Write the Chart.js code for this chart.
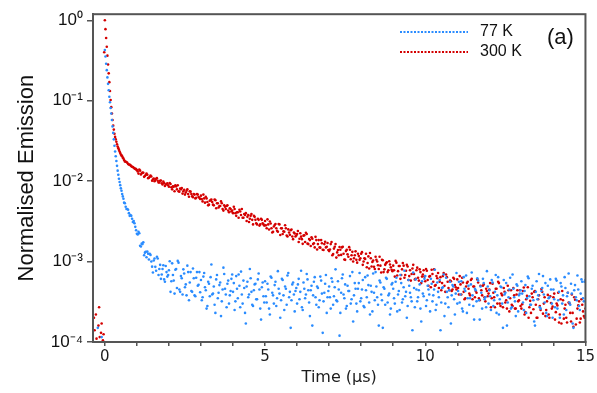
<!DOCTYPE html>
<html>
<head>
<meta charset="utf-8">
<script src="https://cdn.jsdelivr.net/npm/chart.js@4.4.1/dist/chart.umd.min.js"></script>
<style>
  html, body { margin: 0; padding: 0; background: #fff; }
</style>
</head>
<body>
<canvas id="decay" width="597" height="393"></canvas>
<script>
// time bins (µs): fine bins around the pulse, two interleaved sets of bins for the tail
const earlyStart = -0.36, earlyStep = 0.02;
const lateStart = 0.6, lateBStart = 0.625, lateStep = 0.05;

const seriesLabels = ['77 K', '300 K'];
const seriesColors = ['#2a8cff', '#d40000'];

// 77 K, -0.36 .. 0.58 µs
const blueEarly = [
  null, null, null, null, null, null, null, 1.5e-4, null, null, null, null, null, 1.15e-4, null, null, null, null,
  0.427, 0.355, 0.288, 0.240, 0.195, 0.162, 0.135, 0.112, 0.0955, 0.0813,
  0.0692, 0.0575, 0.0479, 0.0398, 0.0331, 0.0275, 0.0234, 0.0204, 0.0178, 0.0155,
  0.0135, 0.0120, 0.0107, 0.00977, 0.00891, 0.00813, 0.00759, 0.00692, 0.00646, 0.00603
];
// 77 K, 0.600 .. 15.000 µs
const blueLate = [
  5.4e-3, 4.8e-3, 4.5e-3, 4.0e-3, 3.8e-3, 3.4e-3, 3.2e-3, 2.7e-3,
  2.22e-3, 2.34e-3, 1.57e-3, 1.67e-3, 1.74e-3, 1.29e-3, 1.13e-3, 1.25e-3, 1.25e-3, 1.0e-3, 7.3e-4, 1.09e-3, 7.7e-4, 1.09e-3, 8.1e-4, 6.1e-4, 8.1e-4, 6.0e-4, 8.8e-4, 6.5e-4,
  7.8e-4, 4.2e-4, 9.5e-4, 5.8e-4, 7.9e-4, 4.7e-4, 9.7e-4, 4.2e-4, 6.2e-4, 8.0e-4, 4.8e-4, 3.8e-4, 7.4e-4, 5.5e-4, 4.3e-4, 8.2e-4, 3.8e-4, 6.3e-4, 5.0e-4, 7.4e-4,
  5.9e-4, 3.6e-4, 7.2e-4, 4.4e-4, 2.8e-4, 5.3e-4, 6.4e-4, 3.9e-4, 4.9e-4, 2.3e-4, 6.8e-4, 4.1e-4, 5.5e-4, 3.2e-4, 8.4e-4, 4.6e-4, 2.7e-4, 5.8e-4, 3.8e-4, 6.1e-4,
  4.2e-4, 2.5e-4, 6.6e-4, 3.5e-4, 5.0e-4, 7.5e-4, 3.0e-4, 4.7e-4, 1.7e-4, 5.6e-4, 3.9e-4, 6.2e-4, 2.9e-4, 4.4e-4, 5.3e-4, 3.4e-4, 7.1e-4, 2.6e-4, 4.8e-4, 3.7e-4,
  5.7e-4, 3.1e-4, 4.5e-4, 2.2e-4, 6.3e-4, 3.8e-4, 5.1e-4, 2.8e-4, 7.6e-4, 4.0e-4, 3.3e-4, 5.9e-4, 2.5e-4, 4.6e-4, 6.7e-4, 3.6e-4, 1.5e-4, 5.2e-4, 3.9e-4, 4.3e-4,
  3.0e-4, 6.1e-4, 4.2e-4, 2.7e-4, 5.5e-4, 3.5e-4, 7.0e-4, 4.4e-4, 2.1e-4, 5.0e-4, 3.8e-4, 6.4e-4, 2.9e-4, 4.7e-4, 3.3e-4, 5.8e-4, 1.3e-4, 4.1e-4, 6.8e-4, 3.6e-4,
  4.9e-4, 2.6e-4, 5.6e-4, 3.7e-4, 8.0e-4, 3.2e-4, 4.5e-4, 2.3e-4, 6.2e-4, 3.9e-4, 5.2e-4, 2.8e-4, 4.3e-4, 6.6e-4, 3.4e-4, 1.8e-4, 5.4e-4, 3.0e-4, 4.6e-4, 7.2e-4,
  3.5e-4, 5.9e-4, 2.7e-4, 4.4e-4, 6.7e-4, 3.1e-4, 5.0e-4, 2.4e-4, 4.1e-4, 7.4e-4, 3.6e-4, 1.6e-4, 5.5e-4, 3.3e-4, 4.8e-4, 2.9e-4, 6.1e-4, 3.8e-4, 2.2e-4, 5.2e-4,
  4.6e-4, 3.0e-4, 6.3e-4, 3.9e-4, 2.5e-4, 5.4e-4, 3.4e-4, 7.7e-4, 4.2e-4, 2.8e-4, 5.0e-4, 3.6e-4, 1.4e-4, 4.7e-4, 6.0e-4, 3.2e-4, 4.4e-4, 2.6e-4, 5.7e-4, 3.7e-4,
  6.6e-4, 3.3e-4, 4.5e-4, 2.4e-4, 5.3e-4, 3.8e-4, 7.9e-4, 2.9e-4, 4.2e-4, 5.9e-4, 3.1e-4, 4.8e-4, 2.1e-4, 6.3e-4, 3.6e-4, 4.4e-4, 1.7e-4, 5.1e-4, 3.4e-4, 4.0e-4,
  3.0e-4, 5.6e-4, 3.9e-4, 2.6e-4, 6.4e-4, 4.3e-4, 2.3e-4, 5.0e-4, 3.5e-4, 7.3e-4, 2.8e-4, 4.6e-4, 3.2e-4, 5.8e-4, 1.9e-4, 4.1e-4, 6.1e-4, 3.4e-4, 2.7e-4, 4.9e-4,
  4.4e-4, 2.5e-4, 5.5e-4, 3.3e-4, 6.8e-4, 3.8e-4, 2.2e-4, 4.9e-4, 3.0e-4, 5.9e-4, 4.1e-4, 1.6e-4, 3.6e-4, 6.3e-4, 2.7e-4, 4.6e-4, 3.2e-4, 5.2e-4, 2.4e-4, 4.0e-4,
  5.7e-4, 3.1e-4, 4.3e-4, 2.3e-4, 6.5e-4, 3.7e-4, 2.9e-4, 5.0e-4, 1.8e-4, 4.2e-4, 3.4e-4, 7.0e-4, 2.6e-4, 4.7e-4, 3.9e-4, 5.4e-4, 2.1e-4, 3.5e-4, 6.0e-4, 3.0e-4,
  4.5e-4, 2.7e-4, 5.8e-4, 3.3e-4, 2.0e-4, 4.9e-4, 3.8e-4, 6.4e-4, 2.5e-4, 4.1e-4, 3.1e-4, 5.3e-4, 1.7e-4, 4.4e-4, 3.6e-4, 6.7e-4, 2.8e-4, 4.0e-4, 5.6e-4, 3.2e-4, 5.9e-4
];
// 77 K, 0.625 .. 14.975 µs
const blueLateB = [
  5.3e-3, 4.5e-3, 4.4e-3, 3.7e-3, 3.7e-3, 3.1e-3, 3.0e-3, 2.45e-3,
  2.17e-3, 2.25e-3, 1.54e-3, 1.65e-3, 1.2e-3, 1.32e-3, 1.33e-3, 1.06e-3, 1.21e-3, 8.65e-4, 1.03e-3, 8.6e-4, 1.15e-3, 6.8e-4, 9.1e-4, 6.9e-4, 9.0e-4, 5.6e-4, 7.4e-4, 6.8e-4,
  1.01e-3, 5.7e-4, 6.8e-4, 4.0e-4, 8.1e-4, 1.02e-3, 4.5e-4, 6.6e-4, 3.9e-4, 7.1e-4, 5.2e-4, 8.9e-4, 3.3e-4, 7.4e-4, 4.2e-4, 6.2e-4, 3.7e-4, 7.4e-4, 5.15e-4, 4.15e-4,
  3.3e-4, 6.5e-4, 4.8e-4, 2.6e-4, 5.6e-4, 3.7e-4, 9.2e-4, 4.0e-4, 2.9e-4, 6.0e-4, 3.5e-4, 5.1e-4, 2.1e-4, 4.5e-4, 7.0e-4, 3.9e-4, 5.3e-4, 3.0e-4, 4.3e-4, 6.9e-4,
  5.4e-4, 3.2e-4, 4.6e-4, 6.9e-4, 2.7e-4, 3.9e-4, 5.8e-4, 2.3e-4, 4.9e-4, 3.6e-4, 8.1e-4, 4.2e-4, 2.8e-4, 5.2e-4, 3.4e-4, 6.0e-4, 4.5e-4, 1.9e-4, 5.5e-4, 3.1e-4,
  3.7e-4, 5.3e-4, 2.6e-4, 6.5e-4, 4.1e-4, 3.0e-4, 5.6e-4, 3.5e-4, 4.6e-4, 2.0e-4, 6.1e-4, 3.8e-4, 4.9e-4, 2.9e-4, 7.2e-4, 4.2e-4, 3.3e-4, 5.5e-4, 2.4e-4, 4.7e-4,
  5.2e-4, 3.4e-4, 7.7e-4, 2.5e-4, 4.6e-4, 3.9e-4, 6.0e-4, 3.1e-4, 4.4e-4, 1.6e-4, 5.6e-4, 3.6e-4, 4.9e-4, 2.7e-4, 6.5e-4, 4.0e-4, 3.2e-4, 5.3e-4, 2.3e-4, 4.3e-4,
  3.6e-4, 6.2e-4, 2.9e-4, 4.8e-4, 3.3e-4, 5.7e-4, 1.2e-4, 4.1e-4, 6.9e-4, 3.5e-4, 2.6e-4, 5.0e-4, 4.3e-4, 3.0e-4, 7.4e-4, 3.8e-4, 4.6e-4, 2.4e-4, 5.4e-4, 3.2e-4,
  4.5e-4, 2.8e-4, 6.4e-4, 3.6e-4, 5.1e-4, 2.2e-4, 4.2e-4, 7.1e-4, 3.3e-4, 4.9e-4, 2.9e-4, 5.8e-4, 3.9e-4, 1.5e-4, 4.6e-4, 6.3e-4, 3.1e-4, 4.0e-4, 2.6e-4, 5.4e-4,
  3.5e-4, 5.6e-4, 2.4e-4, 4.3e-4, 6.8e-4, 3.1e-4, 4.8e-4, 3.7e-4, 2.0e-4, 5.9e-4, 4.1e-4, 3.2e-4, 7.3e-4, 2.7e-4, 4.5e-4, 3.6e-4, 5.2e-4, 1.8e-4, 4.0e-4, 6.1e-4,
  2.8e-4, 5.0e-4, 3.9e-4, 6.1e-4, 3.2e-4, 4.5e-4, 2.5e-4, 5.5e-4, 3.6e-4, 1.4e-4, 4.7e-4, 6.9e-4, 3.0e-4, 4.2e-4, 2.7e-4, 5.6e-4, 3.8e-4, 4.9e-4, 2.2e-4, 7.2e-4,
  4.3e-4, 3.1e-4, 5.7e-4, 2.4e-4, 4.6e-4, 6.7e-4, 3.5e-4, 2.9e-4, 5.2e-4, 3.8e-4, 1.9e-4, 4.4e-4, 6.2e-4, 3.3e-4, 4.9e-4, 2.6e-4, 5.4e-4, 3.6e-4, 7.6e-4, 3.0e-4,
  3.7e-4, 5.9e-4, 2.8e-4, 4.2e-4, 2.3e-4, 6.4e-4, 3.4e-4, 4.8e-4, 1.5e-4, 3.9e-4, 5.4e-4, 3.1e-4, 4.5e-4, 2.6e-4, 6.9e-4, 3.6e-4, 2.1e-4, 5.0e-4, 3.8e-4, 4.4e-4,
  4.0e-4, 2.5e-4, 5.1e-4, 3.5e-4, 6.2e-4, 2.9e-4, 4.6e-4, 3.3e-4, 1.6e-4, 5.7e-4, 3.8e-4, 2.7e-4, 4.3e-4, 6.6e-4, 3.1e-4, 2.3e-4, 5.0e-4, 3.6e-4, 4.5e-4, 2.0e-4,
  3.4e-4, 6.1e-4, 2.6e-4, 4.2e-4, 5.4e-4, 3.0e-4, 2.2e-4, 4.7e-4, 3.7e-4, 7.1e-4, 2.9e-4, 4.0e-4, 1.5e-4, 5.1e-4, 3.3e-4, 4.5e-4, 2.5e-4, 6.0e-4, 3.5e-4, 5.6e-4
];

// 300 K, -0.36 .. 0.58 µs
const redEarly = [
  null, 2.0e-4, 1.4e-4, null, 2.2e-4, 1.1e-4, null, null, 1.6e-4, 2.7e-4, 1.15e-4, null, 1.3e-4, 1.7e-4, null, 1.05e-4, 1.25e-4, 0.40,
  1.0, 0.776, 0.603, 0.468, 0.363, 0.282, 0.219, 0.170, 0.132, 0.102,
  0.0832, 0.0692, 0.0575, 0.0490, 0.0437, 0.0389, 0.0355, 0.0331, 0.0309, 0.0288,
  0.0269, 0.0257, 0.0245, 0.0234, 0.0224, 0.0214, 0.0209, 0.0204, 0.0195, 0.0191
];
// 300 K, 0.600 .. 15.000 µs
const redLate = [
  1.83e-2, 1.74e-2, 1.69e-2, 1.61e-2, 1.58e-2, 1.51e-2, 1.47e-2, 1.42e-2,
  1.37e-2, 1.24e-2, 1.35e-2, 1.25e-2, 1.27e-2, 1.16e-2, 1.24e-2, 1.09e-2, 1.13e-2, 1.14e-2, 1.05e-2, 9.95e-3, 1.07e-2, 1.01e-2, 9.6e-3, 1.02e-2, 9.1e-3, 9.5e-3, 9.05e-3, 9.4e-3,
  8.5e-3, 9.2e-3, 7.9e-3, 8.5e-3, 8.9e-3, 7.9e-3, 7.5e-3, 8.1e-3, 8.2e-3, 7.5e-3, 6.8e-3, 7.6e-3, 6.9e-3, 7.5e-3, 6.9e-3, 6.3e-3, 6.8e-3, 6.2e-3, 6.8e-3, 6.2e-3,
  6.6e-3, 5.6e-3, 6.1e-3, 6.4e-3, 5.5e-3, 5.1e-3, 5.8e-3, 5.5e-3, 5.0e-3, 5.8e-3, 5.3e-3, 4.7e-3, 4.9e-3, 5.3e-3, 4.3e-3, 4.8e-3, 4.9e-3, 4.3e-3, 4.6e-3, 4.2e-3,
  4.0e-3, 4.5e-3, 3.7e-3, 4.1e-3, 4.4e-3, 3.8e-3, 3.5e-3, 3.9e-3, 4.0e-3, 3.6e-3, 3.1e-3, 3.7e-3, 3.3e-3, 3.7e-3, 3.3e-3, 2.9e-3, 3.3e-3, 2.9e-3, 3.3e-3, 2.9e-3,
  3.2e-3, 2.6e-3, 2.9e-3, 3.15e-3, 2.6e-3, 2.35e-3, 2.85e-3, 2.6e-3, 2.35e-3, 2.9e-3, 2.6e-3, 2.2e-3, 2.35e-3, 2.6e-3, 2.05e-3, 2.3e-3, 2.45e-3, 2.05e-3, 2.3e-3, 2.05e-3,
  2.2e-3, 1.75e-3, 2.25e-3, 1.9e-3, 2.1e-3, 1.75e-3, 2.2e-3, 1.65e-3, 1.85e-3, 2.0e-3, 1.65e-3, 1.5e-3, 1.85e-3, 1.65e-3, 1.5e-3, 1.85e-3, 1.4e-3, 1.65e-3, 1.5e-3, 1.7e-3,
  1.35e-3, 1.65e-3, 1.2e-3, 1.45e-3, 1.65e-3, 1.3e-3, 1.2e-3, 1.4e-3, 1.5e-3, 1.25e-3, 1.05e-3, 1.4e-3, 1.15e-3, 1.4e-3, 1.2e-3, 1.0e-3, 1.2e-3, 1.05e-3, 1.25e-3, 1.05e-3,
  1.25e-3, 9.1e-4, 1.1e-3, 1.25e-3, 9.6e-4, 8.2e-4, 1.1e-3, 9.9e-4, 8.6e-4, 1.15e-3, 1.0e-3, 8.1e-4, 8.9e-4, 1.05e-3, 7.4e-4, 9.1e-4, 9.8e-4, 7.8e-4, 9.2e-4, 7.9e-4,
  8.9e-4, 6.5e-4, 9.7e-4, 7.6e-4, 8.8e-4, 6.8e-4, 9.6e-4, 6.3e-4, 7.7e-4, 8.7e-4, 6.6e-4, 5.8e-4, 8.2e-4, 7.0e-4, 6.1e-4, 8.4e-4, 5.8e-4, 7.4e-4, 6.5e-4, 7.8e-4,
  5.7e-4, 7.7e-4, 5.0e-4, 6.6e-4, 7.9e-4, 5.6e-4, 5.0e-4, 6.6e-4, 7.2e-4, 5.6e-4, 4.4e-4, 6.6e-4, 5.0e-4, 6.9e-4, 5.6e-4, 4.4e-4, 5.7e-4, 4.5e-4, 6.1e-4, 4.8e-4,
  6.0e-4, 3.9e-4, 5.2e-4, 6.3e-4, 4.2e-4, 3.5e-4, 5.4e-4, 4.6e-4, 3.8e-4, 6.1e-4, 4.9e-4, 3.6e-4, 4.1e-4, 5.5e-4, 3.3e-4, 4.4e-4, 5.0e-4, 3.6e-4, 4.6e-4, 3.7e-4,
  4.5e-4, 2.7e-4, 5.3e-4, 3.6e-4, 4.6e-4, 3.0e-4, 5.4e-4, 2.8e-4, 3.8e-4, 4.7e-4, 3.1e-4, 2.6e-4, 4.4e-4, 3.5e-4, 2.9e-4, 4.7e-4, 2.6e-4, 3.9e-4, 3.2e-4, 4.4e-4,
  2.6e-4, 4.3e-4, 2.2e-4, 3.4e-4, 4.8e-4, 2.7e-4, 2.3e-4, 3.6e-4, 4.2e-4, 2.9e-4, 2.0e-4, 3.8e-4, 2.5e-4, 4.2e-4, 3.0e-4, 2.1e-4, 3.2e-4, 2.2e-4, 3.7e-4, 2.6e-4,
  3.6e-4, 1.9e-4, 3.0e-4, 4.1e-4, 2.2e-4, 1.7e-4, 3.3e-4, 2.6e-4, 2.0e-4, 4.1e-4, 3.0e-4, 1.8e-4, 2.3e-4, 3.6e-4, 1.65e-4, 2.6e-4, 3.2e-4, 1.95e-4, 2.9e-4, 2.1e-4, 2.6e-4
];
// 300 K, 0.625 .. 14.975 µs
const redLateB = [
  1.76e-2, 1.73e-2, 1.63e-2, 1.60e-2, 1.53e-2, 1.50e-2, 1.44e-2, 1.41e-2,
  1.32e-2, 1.39e-2, 1.21e-2, 1.28e-2, 1.13e-2, 1.19e-2, 1.20e-2, 1.10e-2, 1.17e-2, 1.01e-2, 1.08e-2, 1.03e-2, 1.09e-2, 9.6e-3, 1.01e-2, 9.4e-3, 9.85e-3, 8.7e-3, 9.2e-3, 8.9e-3,
  9.5e-3, 8.4e-3, 8.6e-3, 7.5e-3, 8.6e-3, 8.9e-3, 7.4e-3, 7.9e-3, 7.0e-3, 7.8e-3, 7.2e-3, 7.9e-3, 6.4e-3, 7.4e-3, 6.5e-3, 6.9e-3, 6.1e-3, 6.9e-3, 6.35e-3, 6.0e-3,
  6.0e-3, 6.8e-3, 5.4e-3, 6.1e-3, 5.0e-3, 5.7e-3, 5.9e-3, 5.1e-3, 5.9e-3, 4.6e-3, 5.3e-3, 4.9e-3, 5.6e-3, 4.5e-3, 5.0e-3, 4.5e-3, 5.0e-3, 4.1e-3, 4.5e-3, 4.3e-3,
  4.8e-3, 4.0e-3, 4.1e-3, 3.5e-3, 4.2e-3, 4.5e-3, 3.5e-3, 3.8e-3, 3.2e-3, 3.8e-3, 3.4e-3, 3.9e-3, 2.9e-3, 3.6e-3, 3.0e-3, 3.4e-3, 2.8e-3, 3.4e-3, 3.0e-3, 2.8e-3,
  2.82e-3, 3.35e-3, 2.5e-3, 2.98e-3, 2.3e-3, 2.73e-3, 2.93e-3, 2.42e-3, 2.93e-3, 2.14e-3, 2.59e-3, 2.38e-3, 2.83e-3, 2.11e-3, 2.51e-3, 2.15e-3, 2.5e-3, 1.9e-3, 2.23e-3, 2.11e-3,
  2.4e-3, 1.92e-3, 2.04e-3, 1.66e-3, 2.12e-3, 2.28e-3, 1.67e-3, 1.91e-3, 1.56e-3, 1.92e-3, 1.69e-3, 2.03e-3, 1.41e-3, 1.85e-3, 1.49e-3, 1.69e-3, 1.39e-3, 1.76e-3, 1.53e-3, 1.39e-3,
  1.41e-3, 1.75e-3, 1.24e-3, 1.53e-3, 1.12e-3, 1.39e-3, 1.52e-3, 1.21e-3, 1.53e-3, 1.06e-3, 1.35e-3, 1.23e-3, 1.51e-3, 1.07e-3, 1.32e-3, 1.1e-3, 1.34e-3, 9.7e-4, 1.17e-3, 1.1e-3,
  1.31e-3, 1.0e-3, 1.08e-3, 8.5e-4, 1.16e-3, 1.28e-3, 8.7e-4, 1.03e-3, 8.1e-4, 1.05e-3, 9.0e-4, 1.15e-3, 7.3e-4, 1.04e-3, 8.0e-4, 9.5e-4, 7.4e-4, 1.01e-3, 8.5e-4, 7.6e-4,
  7.8e-4, 1.02e-3, 6.7e-4, 8.8e-4, 6.1e-4, 8.0e-4, 8.9e-4, 6.8e-4, 9.1e-4, 5.9e-4, 7.8e-4, 7.0e-4, 9.1e-4, 6.0e-4, 7.8e-4, 6.3e-4, 8.0e-4, 5.4e-4, 6.9e-4, 6.5e-4,
  8.1e-4, 5.9e-4, 6.5e-4, 4.8e-4, 7.0e-4, 8.0e-4, 5.1e-4, 6.2e-4, 4.7e-4, 6.4e-4, 5.4e-4, 7.2e-4, 4.2e-4, 6.4e-4, 4.7e-4, 5.8e-4, 4.3e-4, 6.3e-4, 5.1e-4, 4.5e-4,
  4.7e-4, 6.6e-4, 3.9e-4, 5.5e-4, 3.4e-4, 4.9e-4, 5.6e-4, 4.0e-4, 5.9e-4, 3.4e-4, 4.9e-4, 4.3e-4, 6.0e-4, 3.5e-4, 5.0e-4, 3.8e-4, 5.2e-4, 3.2e-4, 4.3e-4, 4.0e-4,
  5.4e-4, 3.5e-4, 4.1e-4, 2.7e-4, 4.6e-4, 5.6e-4, 3.0e-4, 4.0e-4, 2.7e-4, 4.2e-4, 3.3e-4, 5.0e-4, 2.4e-4, 4.4e-4, 2.8e-4, 3.8e-4, 2.6e-4, 4.4e-4, 3.3e-4, 2.8e-4,
  2.95e-4, 4.75e-4, 2.35e-4, 3.75e-4, 2.0e-4, 3.25e-4, 4.0e-4, 2.55e-4, 4.3e-4, 2.0e-4, 3.4e-4, 2.8e-4, 4.55e-4, 2.25e-4, 3.6e-4, 2.5e-4, 3.85e-4, 2.0e-4, 3.05e-4, 2.75e-4,
  4.0e-4, 2.35e-4, 2.85e-4, 1.75e-4, 3.4e-4, 4.3e-4, 1.95e-4, 2.9e-4, 1.75e-4, 3.1e-4, 2.3e-4, 3.9e-4, 1.55e-4, 3.35e-4, 1.95e-4, 2.85e-4, 1.75e-4, 3.4e-4, 2.4e-4, 2.0e-4
];

// axes
const yTickValues = [1e-4, 1e-3, 1e-2, 1e-1, 1];
const yTickLabels = ['10\u207B\u2074', '10\u207B\u00B3', '10\u207B\u00B2', '10\u207B\u00B9', '10\u2070'];
const xTickValues = [0, 1, 2, 3, 4, 5, 6, 7, 8, 9, 10, 11, 12, 13, 14, 15];
const xTickLabels = ['0', '5', '10', '15'];

// pair each set of time bins with its values
const toPoints = (...segments) =>
  segments.flatMap(([start, step, values]) =>
    values.map((y, i) => ({ x: +(start + i * step).toFixed(3), y })));

const sans = '"Liberation Sans", Arial, sans-serif';
const dejavu = '"DejaVu Sans", Verdana, sans-serif';
const frameColor = '#555';

// box around the plot + the key in the top right
const frameAndKey = {
  id: 'frameAndKey',
  afterDatasetsDraw(chart) {
    const { ctx, chartArea: a } = chart;
    ctx.save();
    ctx.strokeStyle = frameColor;
    ctx.lineWidth = 2;
    ctx.strokeRect(a.left, a.top, a.right - a.left, a.bottom - a.top);

    ctx.font = '16px ' + sans;
    ctx.textBaseline = 'middle';
    chart.data.datasets.forEach((ds, i) => {
      const y = 32 + i * 20;
      ctx.strokeStyle = ds.borderColor;
      ctx.lineWidth = 2;
      ctx.setLineDash([2, 1.5]);
      ctx.beginPath();
      ctx.moveTo(400, y);
      ctx.lineTo(468, y);
      ctx.stroke();
      ctx.setLineDash([]);
      ctx.fillStyle = '#111';
      ctx.fillText(ds.label, 480, y);
    });
    ctx.font = '22px ' + sans;
    ctx.fillText('(a)', 547, 38);
    ctx.restore();
  }
};

new Chart(document.getElementById('decay'), {
  type: 'scatter',
  data: {
    datasets: [
      {
        label: seriesLabels[0],
        data: toPoints([earlyStart, earlyStep, blueEarly], [lateStart, lateStep, blueLate], [lateBStart, lateStep, blueLateB]),
        backgroundColor: seriesColors[0],
        borderColor: seriesColors[0],
        pointRadius: 1.3,
        borderWidth: 0,
      },
      {
        label: seriesLabels[1],
        data: toPoints([earlyStart, earlyStep, redEarly], [lateStart, lateStep, redLate], [lateBStart, lateStep, redLateB]),
        backgroundColor: seriesColors[1],
        borderColor: seriesColors[1],
        pointRadius: 1.3,
        borderWidth: 0,
      },
    ],
  },
  options: {
    responsive: false,
    animation: false,
    events: [],
    layout: { padding: { top: 14, right: 9, left: 0, bottom: 0 } },
    plugins: { legend: { display: false }, tooltip: { enabled: false } },
    scales: {
      x: {
        type: 'linear',
        min: -0.37,
        max: 15,
        border: { color: frameColor, width: 2 },
        grid: { drawOnChartArea: false, drawTicks: true, tickLength: 4, color: frameColor, lineWidth: 1.5 },
        afterBuildTicks: (scale) => { scale.ticks = xTickValues.map((v) => ({ value: v })); },
        ticks: {
          autoSkip: false,
          maxRotation: 0,
          padding: 2,
          color: '#1c1c1c',
          font: { family: dejavu, size: 15 },
          callback: (v) => (xTickLabels.includes(String(v)) ? String(v) : ''),
        },
        title: {
          display: true,
          text: 'Time (µs)',
          color: '#1c1c1c',
          font: { family: dejavu, size: 16 },
          padding: { top: 0, bottom: 6 },
        },
        afterFit: (scale) => { scale.height = 51; },
      },
      y: {
        type: 'logarithmic',
        min: 1e-4,
        max: 1.19,
        border: { color: frameColor, width: 2 },
        grid: { drawOnChartArea: false, drawTicks: true, tickLength: 6, color: frameColor, lineWidth: 1.5 },
        afterBuildTicks: (scale) => { scale.ticks = yTickValues.map((v) => ({ value: v })); },
        ticks: {
          padding: 4,
          color: '#111',
          font: { family: sans, size: 17 },
          callback: (v) => yTickLabels[yTickValues.indexOf(v)] ?? '',
        },
        title: {
          display: true,
          text: 'Normalised Emission',
          color: '#111',
          font: { family: sans, size: 22 },
          padding: { top: 14, bottom: 0 },
        },
        afterFit: (scale) => { scale.width = 93; },
      },
    },
  },
  plugins: [frameAndKey],
});
</script>
</body>
</html>
